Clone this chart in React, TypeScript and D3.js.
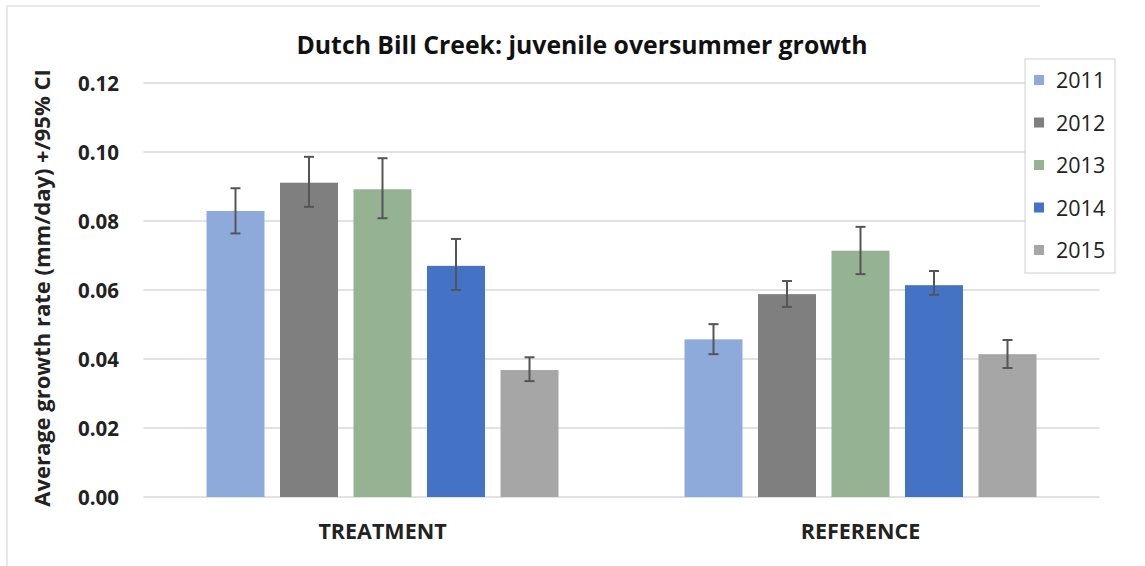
import React from "react";
import * as d3 from "d3";

const groups = ["TREATMENT", "REFERENCE"];
const years = ["2011", "2012", "2013", "2014", "2015"];
const colors = ["#8eaadb", "#7f7f7f", "#95b393", "#4472c4", "#a6a6a6"];
const treatmentMean = [0.0829, 0.0911, 0.0892, 0.0670, 0.0368];
const treatmentLow = [0.0764, 0.0841, 0.0808, 0.0600, 0.0336];
const treatmentHigh = [0.0895, 0.0986, 0.0982, 0.0748, 0.0405];
const referenceMean = [0.0457, 0.0588, 0.0714, 0.0614, 0.0414];
const referenceLow = [0.0414, 0.0551, 0.0646, 0.0586, 0.0374];
const referenceHigh = [0.0501, 0.0626, 0.0783, 0.0655, 0.0455];
const yTicks = [0, 0.02, 0.04, 0.06, 0.08, 0.1, 0.12];

const W = 1145;
const H = 566;
const FONT = "'Open Sans', 'Noto Sans', sans-serif";

export default function App() {
  const x0 = d3.scaleBand().domain(groups).range([143.5, 1099.5]).padding(0);
  const x1 = d3.scaleBand().domain(years).range([63, 415]).paddingInner(0.211).paddingOuter(0);
  const y = d3.scaleLinear().domain([0, 0.12]).range([497, 83]);

  const data = [
    { g: groups[0], mean: treatmentMean, lo: treatmentLow, hi: treatmentHigh },
    { g: groups[1], mean: referenceMean, lo: referenceLow, hi: referenceHigh },
  ];

  const legendX = 1025;
  const legendY = 59;
  const legendStep = 42.5;

  return (
    <svg width={W} height={H} style={{ position: "absolute", left: 0, top: 0, background: "#fff" }}>
      <rect x={0} y={0} width={W} height={H} fill="#fff" />
      <line x1={7} y1={6} x2={1040} y2={6} stroke="#e0e0e0" strokeWidth={1.5} />
      <line x1={7} y1={6} x2={7} y2={H} stroke="#e0e0e0" strokeWidth={1.5} />
      <text x={582} y={54} textAnchor="middle" fontFamily={FONT} fontWeight={700} fontSize={24.8} fill="#111">
        Dutch Bill Creek: juvenile oversummer growth
      </text>
      {yTicks.map((t) => (
        <g key={t}>
          <line x1={143.5} x2={1099.5} y1={y(t)} y2={y(t)} stroke="#d9d9d9" strokeWidth={1.5} />
          <text x={119} y={y(t) + 7.5} textAnchor="end" fontFamily={FONT} fontWeight={700} fontSize={20.5} fill="#222">
            {t.toFixed(2)}
          </text>
        </g>
      ))}
      <text
        transform={`translate(50,288) rotate(-90)`}
        textAnchor="middle"
        fontFamily={FONT}
        fontWeight={700}
        fontSize={22}
        fill="#222"
      >
        Average growth rate (mm/day) +/95% CI
      </text>
      {data.map((d) => (
        <g key={d.g} transform={`translate(${x0(d.g)},0)`}>
          {years.map((yr, i) => {
            const bx = x1(yr)!;
            const bw = x1.bandwidth();
            const cx = bx + bw / 2;
            return (
              <g key={yr}>
                <rect x={bx} y={y(d.mean[i])} width={bw} height={y(0) - y(d.mean[i])} fill={colors[i]} />
                <line x1={cx} x2={cx} y1={y(d.hi[i])} y2={y(d.lo[i])} stroke="#555" strokeWidth={2} />
                <line x1={cx - 5} x2={cx + 5} y1={y(d.hi[i])} y2={y(d.hi[i])} stroke="#555" strokeWidth={2} />
                <line x1={cx - 5} x2={cx + 5} y1={y(d.lo[i])} y2={y(d.lo[i])} stroke="#555" strokeWidth={2} />
              </g>
            );
          })}
          <text
            x={x0.bandwidth() / 2}
            y={539}
            textAnchor="middle"
            fontFamily={FONT}
            fontWeight={700}
            fontSize={21.5}
            fill="#222"
          >
            {d.g}
          </text>
        </g>
      ))}
      <rect x={legendX} y={legendY} width={90} height={214} fill="#fff" stroke="#d0d0d0" strokeWidth={1} />
      {years.map((yr, i) => (
        <g key={yr} transform={`translate(${legendX},${legendY + 21 + i * legendStep})`}>
          <rect x={9} y={-5} width={10} height={10} fill={colors[i]} />
          <text x={31} y={8} fontFamily={FONT} fontSize={21.5} fill="#222">
            {yr}
          </text>
        </g>
      ))}
    </svg>
  );
}
